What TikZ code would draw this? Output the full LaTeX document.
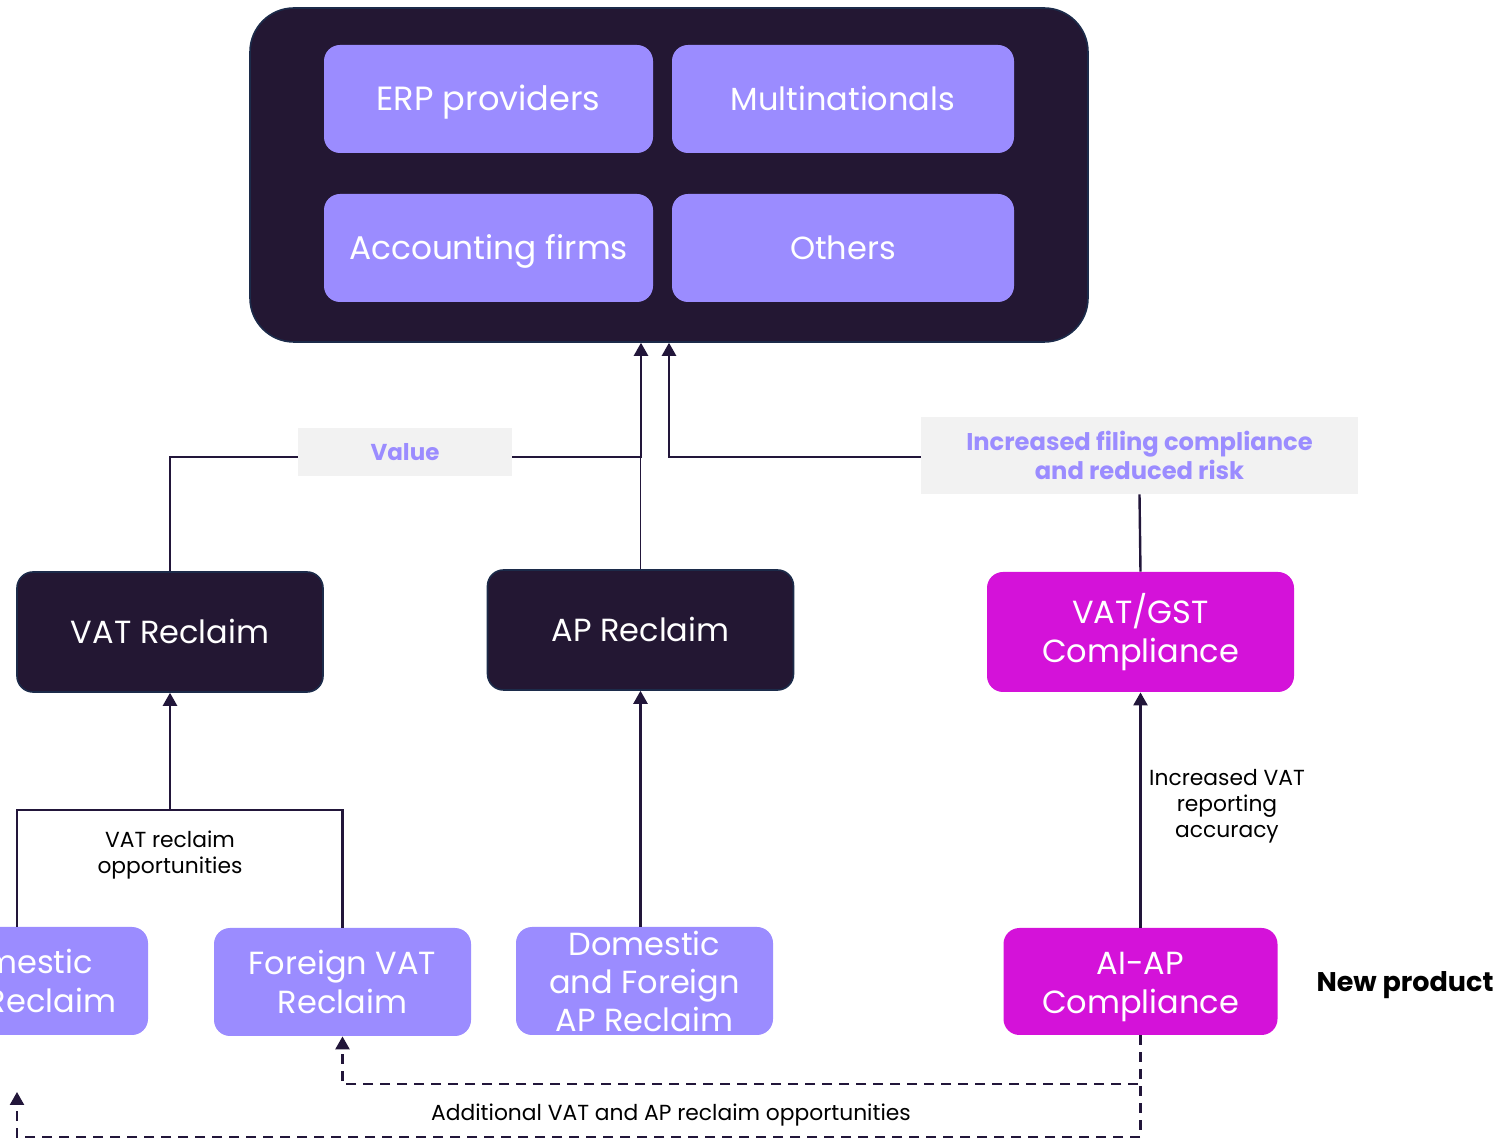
\documentclass[tikz,border=0pt]{standalone}
\usepackage{fontspec}
\setmainfont{Poppins}
\usetikzlibrary{arrows.meta, positioning}
\definecolor{ink}{HTML}{22163A}
\definecolor{night}{HTML}{231733}
\definecolor{rim}{HTML}{1C2B4A}
\definecolor{lilac}{HTML}{9B8CFF}
\definecolor{magenta}{HTML}{D412D9}
\definecolor{tagbg}{HTML}{F2F2F2}

\tikzset{
  boxtext/.style={text=white, align=center, font=\fontsize{16}{19.5}\selectfont},
  oneline/.style={text height=11.5pt, text depth=0pt},
  lbox/.style={boxtext, fill=lilac, rounded corners=8pt, minimum height=54pt, inner sep=0pt},
  dbox/.style={boxtext, oneline, fill=night, draw=rim, line width=0.8pt, rounded corners=8pt,
    minimum width=153pt, minimum height=60pt},
  mbox/.style={boxtext, fill=magenta, rounded corners=8pt, inner sep=0pt},
  tag/.style={fill=tagbg, text=lilac, align=center, inner sep=0pt,
    font=\bfseries\fontsize{11.5}{14.5}\selectfont},
  note/.style={text=black, align=center, font=\fontsize{10.9}{13}\selectfont},
  link/.style={draw=ink, line width=1.2pt},
  thinlink/.style={draw=ink, line width=0.5pt},
  dashlink/.style={draw=ink, line width=1.2pt, dash pattern=on 5pt off 3.5pt},
  tip/.style={-{Triangle[length=6.5pt,width=7pt]}}
}

\begin{document}
\begin{tikzpicture}[x=0.5pt, y=-0.5pt]
\useasboundingbox (0,0) rectangle (1496,1138);
\clip (0,0) rectangle (1496,1138);

% customer group
\node[fill=night, draw=rim, line width=0.8pt, rounded corners=22pt,
  minimum width=419pt, minimum height=167pt] (top) at (669,175) {};
\node[lbox, oneline, minimum width=164.5pt, font=\fontsize{16.8}{19.5}\selectfont] (erp) at (488.5,99) {ERP providers};
\node[lbox, oneline, minimum width=171pt] (multi) at (843,99) {Multinationals};
\node[lbox, oneline, minimum width=164.5pt, font=\fontsize{16.4}{19.5}\selectfont] (acc) at (488.5,248) {Accounting firms};
\node[lbox, oneline, minimum width=171pt] (oth) at (843,248) {Others};

% products
\node[dbox] (vat) at (170,632) {VAT Reclaim};
\node[dbox] (ap) at (640.5,630) {AP Reclaim};
\node[mbox, minimum width=153.5pt, minimum height=60pt] (gst) at (1140.5,632) {VAT/GST\\Compliance};

% sub products
\node[lbox, minimum width=131pt] (dom) at (17,981) {Domestic\\VAT Reclaim};
\node[lbox, minimum width=128.5pt] (for) at (342.5,982) {Foreign VAT\\Reclaim};
\node[lbox, minimum width=128.5pt, font=\fontsize{16}{19}\selectfont] (dfap) at (644.5,981) {Domestic\\and Foreign\\AP Reclaim};
\node[mbox, minimum width=137pt, minimum height=53.5pt] (aiap) at (1140.5,981.5) {\rule{0pt}{17pt}AI-AP\\Compliance};
\node[font=\bfseries\fontsize{13.5}{16}\selectfont] (newp) at (1405,985) {New product};

% value tags
\node[tag, minimum width=107pt, minimum height=24pt] (val) at (405,452) {Value};
\node[tag, minimum width=218.5pt, minimum height=38.5pt, font=\bfseries\fontsize{12.1}{14.5}\selectfont] (risk) at (1139.5,455.5)
  {Increased filing compliance\\and reduced risk};

% connectors to the top
\draw[link] (vat.north) |- ([yshift=-2.5pt]val.west);
\draw[link, tip] ([yshift=-2.5pt]val.east) -| ([xshift=-14pt]top.south);
\draw[thinlink] (ap.north) -- ([yshift=-2.5pt]ap.north |- val.east);
\draw[link, tip] ([yshift=-0.75pt]risk.west) -| (top.south);
\draw[link] (gst.north) -- (risk.south);

% connectors to the products
\coordinate (fork) at (170,810);
\draw[link] (dom.north) -- (dom.north |- fork) -- (for.north |- fork) -- (for.north);
\draw[link, tip] (fork) -- (vat.south);
\node[note] (vatop) at (170,855) {VAT reclaim\\opportunities};
\draw[link, tip] (ap.south |- dfap.north) -- (ap.south);
\draw[link, tip] (aiap.north) -- (gst.south);
\node[note] (accur) at (1227,806) {Increased VAT\\reporting\\accuracy};

% new product feedback
\coordinate (tail) at (17,1092);
\draw[dashlink, tip] (aiap.south) -- (aiap.south |- 0,1084) -| (for.south);
\draw[dashlink, tip] (aiap.south) -- (aiap.south |- 0,1137) -| (tail);
\node[note] (addop) at (671,1115) {Additional VAT and AP reclaim opportunities};
\end{tikzpicture}
\end{document}
